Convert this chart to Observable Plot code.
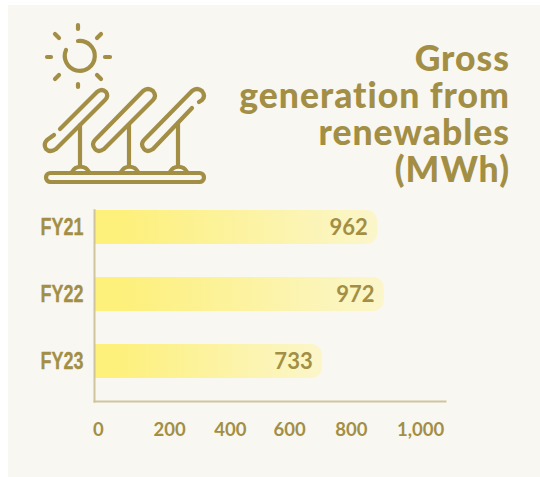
<!DOCTYPE html>
<html>
<head>
<meta charset="utf-8">
<script src="https://cdn.jsdelivr.net/npm/d3@7"></script>
<script src="https://cdn.jsdelivr.net/npm/@observablehq/plot@0.6"></script>
<style>
html,body{margin:0;padding:0;background:#fff;width:540px;height:477px;overflow:hidden}
#panel{position:absolute;left:8px;top:5px;width:532px;height:472px;background:#F9F7F2}
#title{position:absolute;right:30px;top:39px;margin:0;text-align:right;font:900 35.5px/37px Lato,sans-serif;letter-spacing:1px;color:#A28F45}
#icon{position:absolute;left:0;top:0}
#chart{position:absolute;left:0;top:200px}
</style>
</head>
<body>
<div id="panel"></div>
<svg id="icon" width="230" height="200" fill="none" stroke="#A28F45" stroke-width="4.2" stroke-linecap="round" stroke-linejoin="round">
  <path d="M66 50 A15 15 0 1 0 78 41"/>
  <path d="M78 25V29M78 87V84M47 57H51M105 57H110M55 34L59 38M101 34L97 38M55 79L59 75M101 79L97 75"/>
  <path d="M60 129L97 92Q102 88 106 92Q109 96 105 100L56 149Q50 153 46 149Q43 144 47 140L54 135"/>
  <path d="M143 91Q148 87 153 91Q157 96 153 100L104 149Q98 153 95 149Q91 144 95 140Z"/>
  <path d="M192 91Q197 87 202 91Q206 96 202 100L199 102M192 108L153 149Q147 153 144 149Q140 144 144 140L192 91"/>
  <path d="M80 125V165M129 125V165M178 123V165"/>
  <path d="M72 172A9.5 9.5 0 0 1 89 172M121 172A9.5 9.5 0 0 1 138 172M170 172A9.5 9.5 0 0 1 187 172"/>
  <rect x="46" y="173" width="158" height="9" rx="4.5"/>
</svg>
<h1 id="title">Gross<br>generation from<br>renewables<br>(MWh)</h1>
<div id="chart"></div>
<script>
const years = ["FY21", "FY22", "FY23"];
const generation = [962, 972, 733];
// The bars in the picture are not proportional to their printed values:
// these are the lengths (0 to 1,000).
const drawnLength = [807, 826, 650];
const tickNames = ["0", "200", "400", "600", "800", "1,000"];
// Tick labels in the picture sit unevenly; centres read along the axis.
const tickCentres = [11, 214, 387, 556, 732, 929];

const ink = "#A28F45";
const rows = years.map((y, i) => ({y, value: generation[i], length: drawnLength[i]}));
const ticks = tickNames.map((name, i) => ({name, at: tickCentres[i]}));

const gradient = () => {
  const ns = "http://www.w3.org/2000/svg";
  const defs = document.createElementNS(ns, "defs");
  defs.innerHTML = `<linearGradient id="barFade" x1="0" x2="1" y1="0" y2="0">
    <stop offset="0.1" stop-color="#FDF07B"/><stop offset="1" stop-color="#FBF6CB"/></linearGradient>`;
  return defs;
};

const plot = Plot.plot({
  width: 540, height: 277,
  marginLeft: 94, marginRight: 95, marginTop: 9.7, marginBottom: 76,
  style: {background: "transparent", overflow: "visible"},
  x: {domain: [0, 1000], axis: null},
  y: {domain: years, paddingInner: 0.5, paddingOuter: 0.157, align: 0, axis: null},
  marks: [
    gradient,
    Plot.barX(rows, {y: "y", x: "length", fill: "url(#barFade)", rx2: 11}),
    Plot.frame({anchor: "left", stroke: "#CFC49B", strokeWidth: 2}),
    Plot.frame({anchor: "bottom", stroke: "#CFC49B", strokeWidth: 2}),
    Plot.text(years, {y: d => d, text: d => d, frameAnchor: "left", textAnchor: "end", dx: -11,
      className: "years", fontSize: 23.5, fontWeight: 700, stroke: ink, strokeWidth: 0.3,
      fontFamily: "'Liberation Sans',sans-serif", fill: ink}),
    Plot.text(rows, {y: "y", x: "length", text: d => String(d.value), textAnchor: "end", dx: -10,
      fontSize: 22, fontWeight: 700, fontFamily: "Lato,sans-serif", fill: ink}),
    Plot.text(ticks, {x: "at", text: "name", frameAnchor: "bottom", dy: 34,
      fontSize: 18.5, fontWeight: 700, fontFamily: "Lato,sans-serif", fill: ink})
  ]
});
// The year labels are condensed in the reference.
plot.querySelectorAll(".years text").forEach(t => {
  t.setAttribute("textLength", 43);
  t.setAttribute("lengthAdjust", "spacingAndGlyphs");
});
document.getElementById("chart").appendChild(plot);
</script>
</body>
</html>
